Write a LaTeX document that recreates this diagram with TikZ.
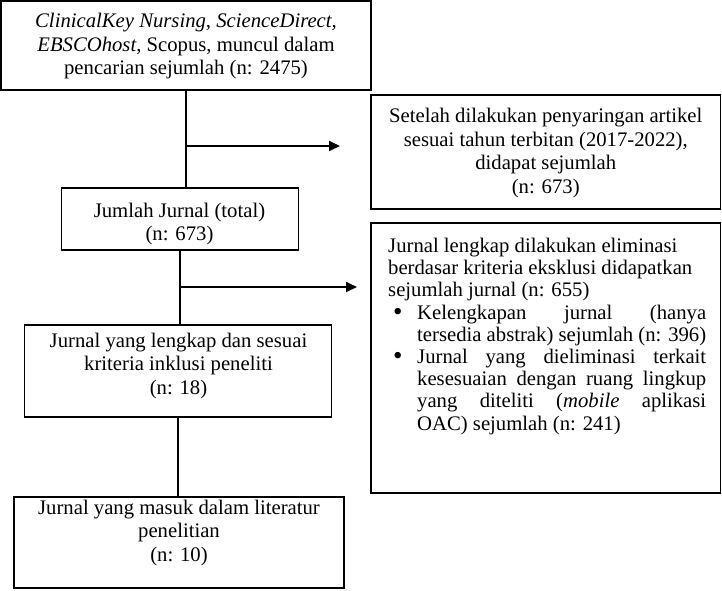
\documentclass[tikz,border=0pt]{standalone}
\usepackage{fontspec}
\setmainfont{Liberation Serif}
\usetikzlibrary{arrows.meta}
\newcommand{\mybul}{\llap{\makebox[24pt][l]{\raisebox{-1.2pt}{\scalebox{1.3}{\textbullet}}}}}
\begin{document}
\begin{tikzpicture}[x=1pt,y=-1pt,
  box/.style={draw, line width=1.8pt, inner sep=0pt, minimum width=#1},
  txt/.style={inner sep=0pt, align=center, font=\fontsize{20.7}{23.5}\selectfont},
  conn/.style={line width=1.8pt},
  arr/.style={line width=1.8pt, -{Triangle[length=11pt,width=10pt]}}]
\useasboundingbox (0,0) rectangle (722,590);
% boxes
\node[box=370pt, minimum height=89pt] (b1) at (186,45.5) {};
\node[box=237pt, minimum height=62pt] (b2) at (180,219) {};
\node[box=307pt, minimum height=92pt] (b3) at (178,371) {};
\node[box=330pt, minimum height=91pt] (b4) at (179,542.5) {};
\node[box=349.5pt, minimum height=114pt] (bA) at (545.75,152) {};
\node[box=349.5pt, minimum height=270pt] (bB) at (545.75,358) {};
% texts
\node[txt] (t1) at (186,46.5) {\textit{ClinicalKey Nursing, ScienceDirect,}\\\textit{EBSCOhost}, Scopus, muncul dalam\\pencarian sejumlah (n: 2475)};
\node[txt] (t2) at (179.5,224) {Jumlah Jurnal (total)\\(n: 673)};
\node[txt] (t3) at (178.5,366) {Jurnal yang lengkap dan sesuai\\kriteria inklusi peneliti\\(n: 18)};
\node[txt] (t4) at (179,533) {Jurnal yang masuk dalam literatur\\penelitian\\(n: 10)};
\node[txt] (tA) at (545.75,153) {Setelah dilakukan penyaringan artikel\\sesuai tahun terbitan (2017-2022),\\didapat sejumlah\\(n: 673)};
\node[txt, font=\fontsize{20.7}{22.2}\selectfont, text width=318pt, align=justify, anchor=north west] (tB) at (388,238) {%
\noindent Jurnal lengkap dilakukan eliminasi\\
berdasar kriteria eksklusi didapatkan\\
sejumlah jurnal (n: 655)\par
\noindent\hangindent=29pt\hangafter=0 \mybul Kelengkapan jurnal (hanya\linebreak tersedia abstrak) sejumlah (n: 396)\par
\noindent\hangindent=29pt\hangafter=0 \mybul Jurnal yang dieliminasi terkait\linebreak kesesuaian dengan ruang lingkup\linebreak yang diteliti (\textit{mobile} aplikasi\linebreak OAC) sejumlah (n: 241)\par};
% connectors
\draw[conn] (b1.south) -- (b1.south |- b2.north);
\draw[conn] (b2.south) -- (b2.south |- b3.north);
\draw[conn] (b3.south) -- (b3.south |- b4.north);
\coordinate (r1) at (186,146);
\coordinate (e1) at (340,146);
\coordinate (r2) at (180,287);
\coordinate (e2) at (357,287);
\draw[arr] (r1) -- (e1);
\draw[arr] (r2) -- (e2);
\end{tikzpicture}
\end{document}
